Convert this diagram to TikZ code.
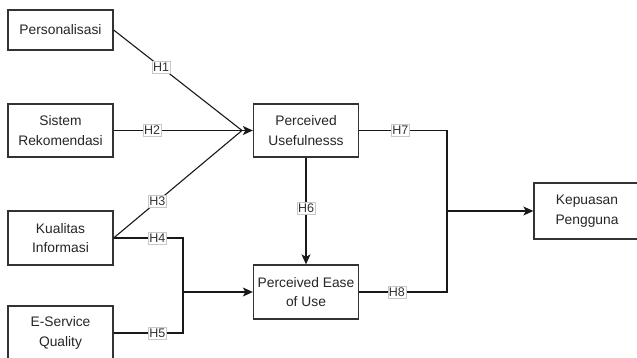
\documentclass[tikz,border=0pt]{standalone}
\usepackage{fontspec}
\setmainfont{Liberation Sans}
\usetikzlibrary{arrows.meta}
\definecolor{edge}{HTML}{333333}
\definecolor{lbord}{HTML}{C8C8C8}
\tikzset{
  box/.style={draw=edge, line width=1.3pt, minimum width=105pt, minimum height=53pt,
    align=center, font=\fontsize{13.8pt}{19.5pt}\selectfont, inner sep=0pt, text=black!85},
  conn/.style={draw=black!90, line width=1.1pt},
  arr/.style={conn, -{Stealth[length=10pt,width=9pt,inset=2.5pt]}},
  lab/.style={fill=white, draw=lbord, line width=0.4pt, inner xsep=1pt, inner ysep=1.5pt,
    font=\fontsize{12.5pt}{13pt}\selectfont, text=black!80}
}
\begin{document}
\begin{tikzpicture}[x=1pt,y=-1pt]
\clip (0,0) rectangle (637,358);
\fill[white] (0,0) rectangle (637,358);
\node[box, minimum height=40pt] (P) at (60.5,30) {Personalisasi};
\node[box] (SR) at (60.5,130.5) {Sistem\\Rekomendasi};
\node[box, minimum height=54pt] (KI) at (60.5,238) {Kualitas\\Informasi};
\node[box, minimum height=54pt] (ESQ) at (60.5,333) {E-Service\\Quality};
\node[box] (PU) at (306,130.5) {Perceived\\Usefulnesss};
\node[box, minimum height=54pt] (PE) at (306,292) {Perceived Ease\\of Use};
\node[box, minimum width=106pt, minimum height=56pt] (KP) at (587,211) {Kepuasan\\Pengguna};
\coordinate (j1) at (242,130.5);
\coordinate (j2) at (183,292);
\coordinate (j3) at (447,211);
\draw[conn] (P.east) -- node[lab, pos=0.37] {H1} (j1);
\draw[conn] (SR.east) -- node[lab, pos=0.3] {H2} (j1);
\draw[conn] (KI.east) -- node[lab, pos=0.34] {H3} (j1);
\draw[arr] (j1) -- (PU.west);
\draw[conn] (KI.east) -- node[lab, pos=0.63] {H4} (KI.east -| j2) -- (j2);
\draw[conn] (ESQ.east) -- node[lab, pos=0.63] {H5} (ESQ.east -| j2) -- (j2);
\draw[arr] (j2) -- (PE.west);
\draw[arr] (PU.south) -- node[lab, pos=0.47] {H6} (PE.north);
\draw[conn] (PU.east) -- node[lab, pos=0.47] {H7} (PU.east -| j3) -- (j3);
\draw[conn] (PE.east) -- node[lab, pos=0.43] {H8} (PE.east -| j3) -- (j3);
\draw[arr] (j3) -- (KP.west);
\end{tikzpicture}
\end{document}
